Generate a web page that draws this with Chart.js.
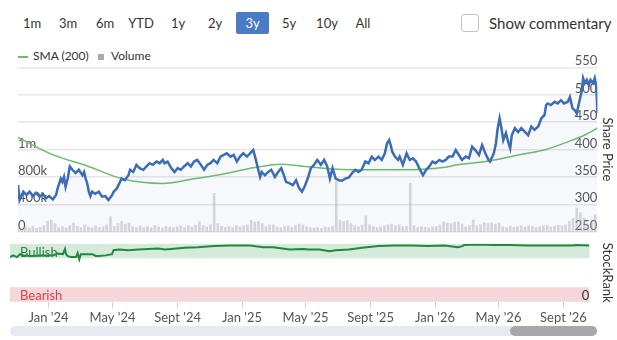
<!DOCTYPE html>
<html lang="en">
<head>
<meta charset="UTF-8">
<title>Share Price</title>
<style>
    body {
        margin: 0;
        width: 617px;
        height: 340px;
        position: relative;
        overflow: hidden;
        background: #fff;
        font-family: Lato, "Open Sans", Arial, sans-serif;
        color: #333;
    }
    .btn {
        position: absolute;
        top: 12px;
        width: 34px;
        height: 22px;
        line-height: 22px;
        text-align: center;
        font-size: 13px;
        color: #333;
    }
    .btn.active {
        background: #4a7bc4;
        color: #fff;
        border-radius: 2px;
    }
    .checkbox {
        position: absolute;
        left: 461px;
        top: 14px;
        width: 16px;
        height: 16px;
        border: 1px solid #c4c4c4;
        border-radius: 3px;
    }
    .commentary {
        position: absolute;
        left: 489px;
        top: 12px;
        font-size: 15px;
        line-height: 22px;
        color: #333;
        white-space: nowrap;
    }
    .legend {
        position: absolute;
        top: 48px;
        font-size: 12px;
        line-height: 16px;
        color: #333;
        white-space: nowrap;
    }
    .legend-line {
        position: absolute;
        left: 18px;
        top: 56px;
        width: 10px;
        height: 2px;
        background: #6cbf6c;
    }
    .legend-box {
        position: absolute;
        left: 98px;
        top: 54px;
        width: 6px;
        height: 6px;
        background: #aaa;
    }
    canvas {
        position: absolute;
        left: 0;
    }
    .track {
        position: absolute;
        left: 10px;
        top: 326px;
        width: 587px;
        height: 10px;
        border-radius: 5px;
        background: #e7eaf2;
    }
    .thumb {
        position: absolute;
        left: 510px;
        top: 326px;
        width: 87px;
        height: 10px;
        border-radius: 5px;
        background: #a7a8ac;
    }
</style>
</head>
<body>
    <div class="btn" style="left:15px">1m</div>
    <div class="btn" style="left:51px">3m</div>
    <div class="btn" style="left:88px">6m</div>
    <div class="btn" style="left:124px">YTD</div>
    <div class="btn" style="left:161px">1y</div>
    <div class="btn" style="left:198px">2y</div>
    <div class="btn active" style="left:236px;width:33px">3y</div>
    <div class="btn" style="left:272px">5y</div>
    <div class="btn" style="left:310px">10y</div>
    <div class="btn" style="left:346px">All</div>
    <div class="checkbox"></div>
    <div class="commentary">Show commentary</div>

    <div class="legend-line"></div>
    <div class="legend" style="left:33px">SMA (200)</div>
    <div class="legend-box"></div>
    <div class="legend" style="left:111px">Volume</div>

    <canvas id="mainChart" width="617" height="210" style="top:40px"></canvas>
    <canvas id="rankChart" width="617" height="104" style="top:236px"></canvas>

    <div class="track"></div>
    <div class="thumb"></div>

    <script src="https://cdn.jsdelivr.net/npm/chart.js"></script>
    <script>
        // x values are days counted from 1 Jan 2024
        const xMin = -73;
        const xMax = 1023;

        const tickDays = [0, 121, 244, 366, 486, 609, 731, 851, 974];
        const tickLabels = ["Jan '24", "May '24", "Sept '24", "Jan '25", "May '25", "Sept '25", "Jan '26", "May '26", "Sept '26"];

        const priceTicks = [250, 300, 350, 400, 450, 500, 550];
        const volumeTicks = [0, 400000, 800000, 1200000];
        const volumeTickLabels = ['0', '400k', '800k', '1m'];

        const priceDays = [
            -73, -70, -63, -57, -51, -45, -39, -32, -26, -20,
            -14, -7, -1, 2, 8, 11, 14, 17, 21, 25,
            30, 36, 42, 49, 52, 55, 58, 61, 64, 67,
            73, 80, 86, 92, 98, 105, 108, 114, 117, 120,
            123, 129, 136, 139, 145, 151, 157, 164, 170, 176,
            182, 189, 195, 201, 204, 210, 217, 223, 229, 235,
            241, 248, 254, 260, 266, 273, 279, 285, 291, 297,
            304, 310, 316, 322, 329, 335, 341, 347, 353, 360,
            366, 372, 377, 380, 385, 388, 394, 400, 406, 413,
            419, 425, 431, 434, 441, 447, 453, 459, 464, 469,
            475, 481, 487, 493, 500, 506, 512, 517, 522, 528,
            534, 540, 546, 553, 559, 565, 571, 577, 584, 590,
            596, 602, 609, 615, 621, 625, 629, 632, 635, 640,
            646, 649, 655, 662, 668, 674, 680, 686, 693, 699,
            705, 711, 717, 724, 730, 736, 742, 749, 755, 761,
            767, 774, 780, 786, 792, 799, 805, 811, 817, 820,
            827, 831, 834, 838, 841, 845, 850, 855, 858, 861,
            867, 873, 879, 886, 892, 898, 904, 911, 917, 923,
            926, 929, 935, 942, 948, 954, 960, 967, 971, 976,
            980, 984, 988, 993, 996, 999, 1003, 1007, 1010, 1015,
            1018, 1021, 1023
        ];
        const priceValues = [
            335, 308, 323, 317, 323, 315, 321, 314, 319, 311,
            315, 309, 317, 329, 347, 341, 350, 332, 347, 369,
            363, 357, 363, 353, 359, 347, 338, 323, 315, 323,
            319, 323, 314, 315, 308, 317, 323, 329, 335, 341,
            347, 344, 353, 363, 359, 372, 366, 363, 369, 375,
            372, 378, 375, 381, 375, 378, 366, 359, 366, 363,
            369, 375, 369, 378, 381, 372, 363, 372, 375, 381,
            375, 387, 390, 393, 387, 390, 378, 387, 393, 387,
            393, 399, 381, 369, 350, 359, 353, 359, 363, 350,
            359, 366, 350, 341, 338, 335, 344, 329, 323, 332,
            347, 366, 372, 381, 372, 381, 369, 347, 366, 347,
            344, 343, 347, 349, 357, 363, 359, 363, 378, 375,
            387, 381, 387, 381, 393, 411, 417, 408, 396, 387,
            381, 387, 372, 393, 381, 384, 378, 366, 353, 363,
            369, 378, 375, 381, 378, 381, 387, 387, 399, 390,
            381, 387, 384, 405, 399, 390, 408, 393, 381, 378,
            393, 411, 436, 457, 442, 417, 430, 411, 402, 426,
            439, 432, 439, 432, 426, 442, 436, 442, 457, 463,
            481, 484, 481, 487, 484, 490, 484, 487, 496, 475,
            472, 466, 484, 505, 530, 521, 527, 518, 527, 521,
            530, 515, 466
        ];

        const smaDays = [-73, -11, 58, 126, 201, 257, 313, 375, 425, 469, 531, 581, 655, 693, 730, 758, 811, 873, 926, 967, 998, 1023];
        const smaValues = [422, 392, 370, 346, 338, 346, 355, 367, 373, 369, 364, 363, 363, 364, 367, 372, 378, 390, 400, 414, 426, 439];

        // weekly volume, in thousands, first bar on day -73
        const volumeStartDay = -73;
        const volumeStepDays = 7;
        const volumeThousands = [
            60, 45, 70, 55, 80, 50, 65, 90, 150, 170,
            120, 60, 75, 55, 90, 130, 80, 60, 95, 70,
            55, 85, 65, 70, 100, 220, 80, 120, 150, 110,
            130, 70, 60, 85, 55, 75, 60, 90, 70, 55,
            80, 65, 60, 75, 85, 60, 90, 70, 95, 145,
            90, 70, 100, 560, 120, 80, 65, 75, 60, 90,
            70, 85, 100, 170, 140, 150, 120, 80, 100, 100,
            70, 60, 75, 85, 65, 90, 110, 100, 70, 60,
            55, 65, 50, 70, 60, 80, 730, 170, 150, 160,
            120, 90, 75, 95, 230, 100, 80, 60, 70, 85,
            100, 110, 90, 100, 70, 80, 705, 90, 60, 75,
            65, 55, 70, 80, 95, 145, 130, 120, 140, 145,
            110, 75, 90, 170, 85, 100, 130, 120, 130, 110,
            125, 70, 60, 80, 65, 75, 85, 70, 90, 80,
            65, 75, 85, 90, 70, 80, 95, 85, 100, 150,
            200, 350, 280, 200, 120, 140, 245
        ];

        const rankDays = [
            -73, -67, -60, -54, -48, -35, -11, 8, 17, 27,
            31, 33, 36, 42, 52, 55, 58, 61, 70, 83,
            89, 95, 108, 120, 123, 133, 151, 170, 189, 207,
            220, 232, 257, 282, 313, 344, 363, 381, 406, 425,
            456, 481, 493, 512, 531, 543, 568, 593, 624, 655,
            686, 717, 749, 774, 783, 786, 811, 842, 873, 904,
            935, 967, 991, 998, 1023
        ];
        const rankValues = [
            77, 80, 77, 82, 80, 79, 80, 80, 83, 82,
            91, 82, 79, 77, 77, 84, 73, 82, 82, 82,
            79, 79, 80, 82, 89, 90, 89, 90, 91, 92,
            90, 91, 93, 94, 96, 97, 97, 97, 94, 94,
            90, 91, 90, 90, 87, 89, 90, 93, 96, 97,
            97, 96, 97, 94, 96, 98, 99, 98, 98, 97,
            97, 97, 97, 98, 97
        ];
        const bullishBand = [75, 100];
        const bearishBand = [0, 25];

        const fontFamily = 'Lato, "Open Sans", Arial, sans-serif';
        Chart.defaults.font.family = fontFamily;
        Chart.defaults.font.size = 13;
        Chart.defaults.color = '#555';

        function points(xs, ys) {
            return xs.map((x, i) => ({ x: x, y: ys[i] }));
        }

        const volumePoints = volumeThousands.map((v, i) => ({
            x: volumeStartDay + i * volumeStepDays,
            y: v * 1000
        }));

        new Chart(document.getElementById('mainChart'), {
            data: {
                datasets: [
                    {
                        type: 'line',
                        label: 'Share Price',
                        data: points(priceDays, priceValues),
                        yAxisID: 'price',
                        borderColor: '#3b6cb5',
                        borderWidth: 2.5,
                        pointRadius: 0,
                        fill: 'start',
                        backgroundColor: 'rgba(70, 110, 190, 0.05)',
                        order: 0
                    },
                    {
                        type: 'line',
                        label: 'SMA (200)',
                        data: points(smaDays, smaValues),
                        yAxisID: 'price',
                        borderColor: '#6cbf6c',
                        borderWidth: 1.5,
                        pointRadius: 0,
                        fill: false,
                        cubicInterpolationMode: 'monotone',
                        order: 1
                    },
                    {
                        type: 'bar',
                        label: 'Volume',
                        data: volumePoints,
                        yAxisID: 'volume',
                        backgroundColor: 'rgba(175, 175, 180, 0.45)',
                        barThickness: 2,
                        order: 2
                    }
                ]
            },
            options: {
                responsive: false,
                animation: false,
                layout: { padding: { left: 10, right: 0, top: 27.3, bottom: 18.3 } },
                plugins: { legend: { display: false }, tooltip: { enabled: false } },
                scales: {
                    x: { type: 'linear', min: xMin, max: xMax, offset: false, display: false },
                    price: {
                        type: 'linear',
                        position: 'right',
                        min: 250,
                        max: 550,
                        afterBuildTicks: axis => { axis.ticks = priceTicks.map(v => ({ value: v })); },
                        grid: { color: '#e6e6e6', lineWidth: 1.5, drawTicks: false },
                        border: { display: false },
                        ticks: { mirror: true, padding: 0, labelOffset: -6, color: '#555' },
                        title: { display: true, text: 'Share Price', color: '#333', padding: { top: 2, bottom: 2 } }
                    },
                    volume: {
                        type: 'linear',
                        position: 'left',
                        min: 0,
                        max: 2400000,
                        afterBuildTicks: axis => { axis.ticks = volumeTicks.map(v => ({ value: v })); },
                        grid: { display: false },
                        border: { display: false },
                        ticks: {
                            mirror: true,
                            padding: 0,
                            labelOffset: -6,
                            color: '#555',
                            callback: (v, i) => volumeTickLabels[i]
                        }
                    }
                }
            }
        });

        // bands go under the axes, so they are painted first
        const bandPlugin = {
            id: 'bands',
            beforeDraw(chart) {
                const ctx = chart.ctx;
                const area = chart.chartArea;
                const rank = chart.scales.rank;
                const w = area.right - area.left;
                const bullTop = rank.getPixelForValue(bullishBand[1]);
                const bullBottom = rank.getPixelForValue(bullishBand[0]);
                const bearTop = rank.getPixelForValue(bearishBand[1]);
                const bearBottom = rank.getPixelForValue(bearishBand[0]);
                ctx.save();
                ctx.fillStyle = '#d5eadb';
                ctx.fillRect(area.left, bullTop, w, bullBottom - bullTop);
                ctx.fillStyle = '#f6d7d9';
                ctx.fillRect(area.left, bearTop, w, bearBottom - bearTop);
                ctx.font = '13px ' + fontFamily;
                ctx.textBaseline = 'middle';
                ctx.fillStyle = '#2f8046';
                ctx.fillText('Bullish', area.left + 10, (bullTop + bullBottom) / 2 + 2);
                ctx.fillStyle = '#d8434f';
                ctx.fillText('Bearish', area.left + 10, (bearTop + bearBottom) / 2 + 1);
                ctx.restore();
            }
        };

        new Chart(document.getElementById('rankChart'), {
            type: 'line',
            data: {
                datasets: [{
                    label: 'StockRank',
                    data: points(rankDays, rankValues),
                    yAxisID: 'rank',
                    borderColor: '#1f8a3c',
                    borderWidth: 2,
                    pointRadius: 0,
                    fill: false
                }]
            },
            options: {
                responsive: false,
                animation: false,
                layout: { padding: { left: 10, right: 0, top: 7.3, bottom: 13.7 } },
                plugins: { legend: { display: false }, tooltip: { enabled: false } },
                scales: {
                    x: {
                        type: 'linear',
                        min: xMin,
                        max: xMax,
                        afterBuildTicks: axis => { axis.ticks = tickDays.map(v => ({ value: v })); },
                        grid: { drawOnChartArea: false, drawTicks: true, tickLength: 7, color: '#ccd6eb' },
                        border: { display: true, color: '#e6e6e6' },
                        ticks: {
                            autoSkip: false,
                            maxRotation: 0,
                            padding: 1,
                            color: '#555',
                            callback: (v, i) => tickLabels[i]
                        }
                    },
                    rank: {
                        type: 'linear',
                        position: 'right',
                        min: 0,
                        max: 100,
                        afterBuildTicks: axis => { axis.ticks = [{ value: 0 }]; },
                        grid: { display: false },
                        border: { display: false },
                        ticks: { mirror: true, padding: 0, labelOffset: -6, color: '#333' },
                        title: { display: true, text: 'StockRank', color: '#333', padding: { top: 2, bottom: 2 } }
                    }
                }
            },
            plugins: [bandPlugin]
        });
    </script>
</body>
</html>
